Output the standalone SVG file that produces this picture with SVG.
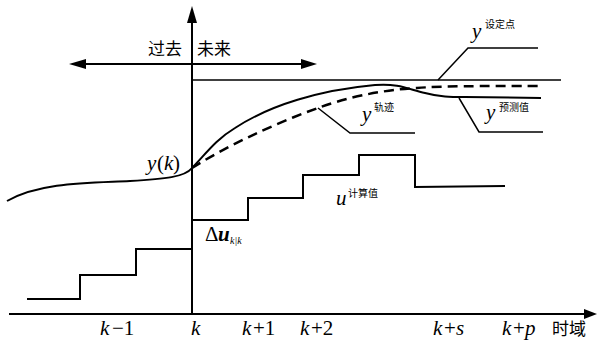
<svg xmlns="http://www.w3.org/2000/svg" width="597" height="341" viewBox="0 0 597 341">
<style>
.ln{fill:none;stroke:#000;stroke-width:2}
.thin{fill:none;stroke:#000;stroke-width:1.5}
.dash{fill:none;stroke:#000;stroke-width:2.5;stroke-dasharray:10,6}
.ah{fill:#000;stroke:none}
.it{font-family:"Liberation Serif",serif;font-style:italic;font-size:21px;fill:#000}
.rm{font-family:"Liberation Serif",serif;font-size:21px;fill:#000}
.sub{font-family:"Liberation Serif",serif;font-style:italic;font-size:10px;fill:#000}
.cn{font-family:"Noto Sans CJK SC",sans-serif;font-size:17px;fill:#000}
.sup{font-family:"Noto Sans CJK SC",sans-serif;font-size:10px;fill:#000}
</style>
<rect width="597" height="341" fill="#fff"/>
<g id="connectors">
<line class="ln" x1="192" y1="18" x2="192" y2="315"/>
<polygon class="ah" points="192,6 187,23 197,23"/>
<line class="ln" x1="9" y1="314" x2="588" y2="314"/>
<polygon class="ah" points="597,314 584,309 584,319"/>
<line class="ln" x1="80" y1="64" x2="306" y2="64"/>
<polygon class="ah" points="69,64 86,59 86,69"/>
<polygon class="ah" points="317,64 301,59 301,69"/>
<line class="thin" x1="192" y1="80" x2="561" y2="80"/>
<polyline class="thin" points="438,80 468,48 538,48"/>
<path class="ln" d="M7,201 C40,182 90,183 130,181 C165,179 185,177 192,168 C205,155 215,140 235,128 C270,105 320,90 375,85 C400,83 410,90 425,93 C440,97 450,97 465,97 L541,98"/>
<path class="dash" d="M192,168 C220,150 270,125 318,108 C345,98 380,90 417,88 C440,86 480,86 542,86"/>
<polyline class="thin" points="318,108 350,133 415,133"/>
<polyline class="thin" points="459,98 479,132 543,132"/>
<polyline class="ln" points="27,299 80,299 80,275 136,275 136,249 192,249 192,220 248,220 248,198 303,198 303,175 359,175 359,155 415,155 415,187 505,186"/>
</g>
<g id="labels">
<text class="cn" x="148" y="55">过去</text>
<text class="cn" x="197" y="55">未来</text>
<text class="it" x="147" y="170">y</text><text class="rm" x="157" y="170">(</text><text class="it" x="164" y="170">k</text><text class="rm" x="173" y="170">)</text>
<text class="rm" x="205" y="241">Δ</text><text class="it" x="218" y="241" style="font-weight:bold">u</text><text class="sub" x="230" y="244">k|k</text>
<text class="it" x="336" y="205">u</text><text class="sup" x="348" y="197">计算值</text>
<text class="it" x="472" y="38">y</text><text class="sup" x="485" y="28">设定点</text>
<text class="it" x="362" y="121">y</text><text class="sup" x="374" y="111">轨迹</text>
<text class="it" x="486" y="119">y</text><text class="sup" x="499" y="111">预测值</text>
<text class="it" x="100" y="335">k</text><text class="rm" x="112" y="335">−1</text>
<text class="it" x="191" y="335">k</text>
<text class="it" x="242" y="335">k</text><text class="rm" x="253" y="335">+1</text>
<text class="it" x="300" y="335">k</text><text class="rm" x="311" y="335">+2</text>
<text class="it" x="433" y="335">k</text><text class="rm" x="444" y="335">+</text><text class="it" x="456" y="335">s</text>
<text class="it" x="502" y="335">k</text><text class="rm" x="513" y="335">+</text><text class="it" x="525" y="335">p</text>
<text class="cn" x="552" y="335">时域</text>
</g>
</svg>
